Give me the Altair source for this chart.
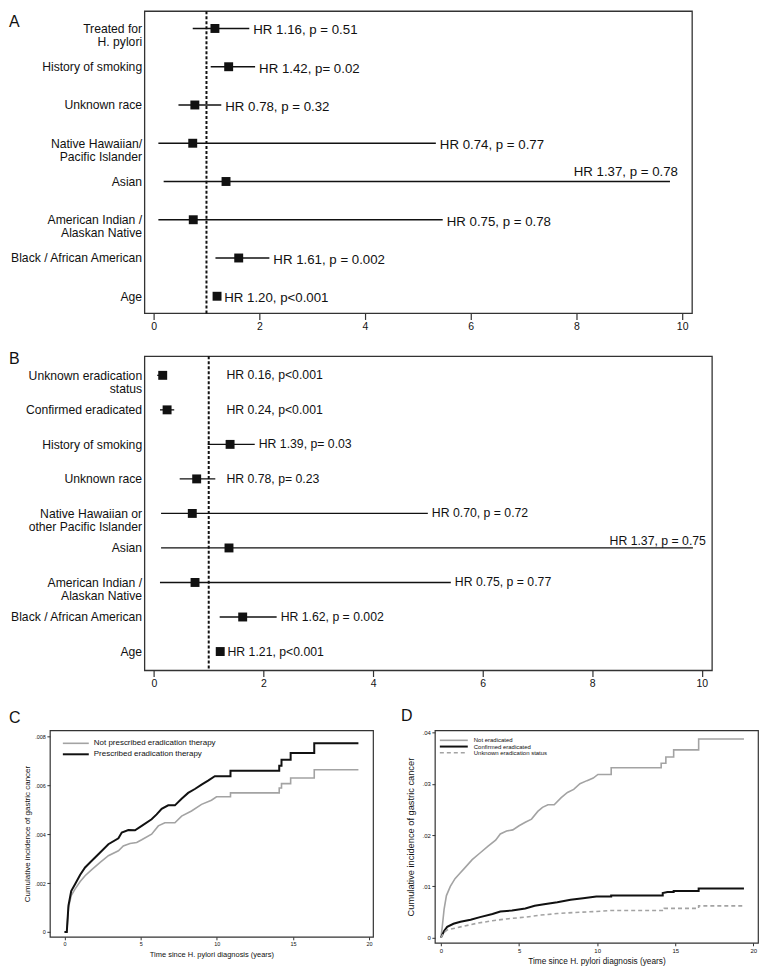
import altair as alt
import pandas as pd

FONT = "Liberation Sans"
INK = "#111111"
FRAME = "#333333"

# ---------------- Panel A: forest plot ----------------
a_labels = ["Treated for\nH. pylori", "History of smoking", "Unknown race",
            "Native Hawaiian/\nPacific Islander", "Asian",
            "American Indian /\nAlaskan Native", "Black / African American", "Age"]
a_hr = [1.16, 1.42, 0.78, 0.74, 1.37, 0.75, 1.61, 1.20]
a_lo = [0.74, 1.08, 0.47, 0.09, 0.19, 0.09, 1.17, 1.15]
a_hi = [1.81, 1.92, 1.28, 5.34, 9.77, 5.47, 2.19, 1.26]
a_txt = ["HR 1.16, p = 0.51", "HR 1.42, p= 0.02", "HR 0.78, p = 0.32",
         "HR 0.74, p = 0.77", "HR 1.37, p = 0.78", "HR 0.75, p = 0.78",
         "HR 1.61, p = 0.002", "HR 1.20, p<0.001"]

# ---------------- Panel B: forest plot ----------------
b_labels = ["Unknown eradication\nstatus", "Confirmed eradicated", "History of smoking",
            "Unknown race", "Native Hawaiian or\nother Pacific Islander", "Asian",
            "American Indian /\nAlaskan Native", "Black / African American", "Age"]
b_hr = [0.16, 0.24, 1.39, 0.78, 0.70, 1.37, 0.75, 1.62, 1.21]
b_lo = [0.06, 0.11, 0.98, 0.47, 0.13, 0.13, 0.11, 1.20, 1.17]
b_hi = [0.20, 0.37, 1.84, 1.12, 5.00, 9.84, 5.42, 2.24, 1.27]
b_txt = ["HR 0.16, p<0.001", "HR 0.24, p<0.001", "HR 1.39, p= 0.03",
         "HR 0.78, p= 0.23", "HR 0.70, p = 0.72", "HR 1.37, p = 0.75",
         "HR 0.75, p = 0.77", "HR 1.62, p = 0.002", "HR 1.21, p<0.001"]

forest_ticks = [0, 2, 4, 6, 8, 10]

# ---------------- Panel C: cumulative incidence (per 1000) ----------------
c_names = ["Not prescribed eradication therapy", "Prescribed eradication therapy"]
c_not_t = [0, 0.15, 0.26, 0.44, 0.70, 1.03, 1.35, 1.79, 2.34, 2.88, 3.54, 3.86, 4.30, 4.74, 5.07,
           5.72, 6.16, 6.59, 7.25, 7.69, 8.34, 9.00, 9.65, 9.98, 10.9, 10.9, 14.1, 14.1, 14.25,
           14.25, 14.85, 14.85, 16.4, 16.4, 19.3]
c_not_permille = [0, 0, 1.00, 1.49, 1.76, 2.06, 2.30, 2.55, 2.85, 3.12, 3.32, 3.52, 3.62, 3.66, 3.77,
                  4.00, 4.34, 4.47, 4.47, 4.74, 4.95, 5.22, 5.39, 5.53, 5.53, 5.69, 5.69, 5.89, 5.89,
                  6.07, 6.07, 6.30, 6.30, 6.64, 6.64]
c_pres_t = [0, 0.15, 0.26, 0.44, 0.70, 1.03, 1.35, 1.79, 2.34, 2.88, 3.54, 3.76, 4.19, 4.63, 5.07,
            5.72, 6.05, 6.38, 6.81, 7.25, 7.69, 8.12, 8.56, 9.00, 9.43, 9.87, 10.9, 10.9, 14.1, 14.1,
            14.25, 14.25, 14.85, 14.85, 16.4, 16.4, 19.3]
c_pres_permille = [0, 0, 1.08, 1.67, 1.96, 2.34, 2.64, 2.91, 3.25, 3.59, 3.83, 4.07, 4.17, 4.16, 4.34,
                   4.61, 4.81, 5.04, 5.18, 5.18, 5.45, 5.69, 5.85, 6.03, 6.19, 6.37, 6.37, 6.60, 6.60,
                   6.80, 6.80, 7.05, 7.05, 7.32, 7.32, 7.72, 7.72]
c_yticks = [0, 0.002, 0.004, 0.006, 0.008]

# ---------------- Panel D: cumulative incidence (percent) ----------------
d_names = ["Not eradicated", "Confirmed eradicated", "Unknown eradication status"]
d_not_t = [0, 0.08, 0.20, 0.35, 0.60, 0.90, 1.20, 1.50, 2.00, 2.50, 3.00, 3.50, 3.80, 4.20, 4.60,
           5.00, 5.40, 5.80, 6.20, 6.50, 6.85, 7.25, 7.70, 8.10, 8.50, 8.90, 9.35, 9.75, 10.05,
           10.9, 10.9, 14.1, 14.1, 14.4, 14.4, 14.9, 14.9, 16.5, 16.5, 19.4]
d_not_pct = [0, 0.20, 0.55, 0.82, 1.00, 1.15, 1.25, 1.35, 1.52, 1.65, 1.78, 1.90, 2.02, 2.08, 2.10,
             2.18, 2.25, 2.31, 2.46, 2.54, 2.59, 2.59, 2.73, 2.83, 2.89, 3.00, 3.06, 3.11, 3.18,
             3.18, 3.31, 3.31, 3.40, 3.40, 3.52, 3.52, 3.66, 3.66, 3.87, 3.87]
d_conf_t = [0, 0.20, 0.40, 0.80, 1.25, 1.90, 2.50, 3.30, 3.80, 4.55, 5.40, 6.00, 6.60, 7.45, 8.30,
            9.10, 9.95, 10.9, 10.9, 14.2, 14.2, 14.5, 14.9, 14.9, 16.5, 16.5, 19.4]
d_conf_pct = [0, 0.13, 0.21, 0.27, 0.31, 0.35, 0.40, 0.46, 0.51, 0.53, 0.57, 0.62, 0.65, 0.69, 0.74,
              0.77, 0.80, 0.80, 0.82, 0.82, 0.87, 0.89, 0.89, 0.91, 0.91, 0.96, 0.96]
d_unk_t = [0, 0.20, 0.40, 1.25, 2.30, 3.30, 4.35, 5.40, 6.40, 7.45, 8.50, 9.95, 10.9, 14.3, 14.3,
           16.5, 16.5, 19.4]
d_unk_pct = [0, 0.10, 0.15, 0.21, 0.28, 0.33, 0.37, 0.40, 0.44, 0.47, 0.49, 0.51, 0.53, 0.53, 0.57,
             0.57, 0.62, 0.62]
d_yticks = [0, 0.01, 0.02, 0.03, 0.04]

time_ticks = [0, 5, 10, 15, 20]

# left gutter (px) between the panel's origin and the forest frame, so that the
# forest frames sit to the right of the left edge shared with panel C
GUTTER = 95


def forest(labels, hr, lo, hi, texts, letter, width, height, pad, text_size, text_dy,
           text_min, top_dx, top_dy, letter_y):
    df = pd.DataFrame({"label": labels, "hr": hr, "lo": lo, "hi": hi, "txt": texts})
    y = alt.Y("label:N", sort=labels, title=None,
              scale=alt.Scale(type="point", padding=pad),
              axis=alt.Axis(labelExpr="split(datum.label, '\\n')", ticks=False, domain=False,
                            grid=False, labelFontSize=12.2, labelPadding=3, labelLineHeight=13,
                            labelLimit=400, labelColor=INK, offset=-GUTTER))
    xsc = alt.Scale(domain=[-0.17, 10.19], nice=False, zero=False, range=[GUTTER, width])
    xax = alt.Axis(values=forest_ticks, format="d", tickSize=6, tickWidth=1.2, tickColor=FRAME,
                   labelFontSize=10.5, labelPadding=2, labelFlush=False, domain=False, grid=False)

    def X(f):
        return alt.X(f, scale=xsc, axis=xax, title=None)

    base = alt.Chart(df)
    frame = alt.Chart(pd.DataFrame({"f": [0]})).mark_rect(
        fillOpacity=0, stroke=FRAME, strokeWidth=1.3).encode(
        x=alt.value(GUTTER), x2=alt.value(width), y=alt.value(0), y2=alt.value(height))
    ref = alt.Chart(pd.DataFrame({"ref": [1.0]})).mark_rule(
        color=INK, strokeWidth=2, strokeDash=[3, 2]).encode(x=X("ref:Q"))
    ci = base.mark_rule(color=INK, strokeWidth=1.3).encode(x=X("lo:Q"), x2="hi:Q", y=y)
    sq = base.mark_square(size=80, color=INK, opacity=1).encode(x=X("hr:Q"), y=y)
    txt = base.transform_filter("datum.hi < 9").transform_calculate(
        tx=f"max(datum.hi, {text_min})").mark_text(
        align="left", baseline="middle", dx=4, dy=text_dy, fontSize=text_size, color=INK
    ).encode(x=X("tx:Q"), y=y, text="txt:N")
    txt_top = base.transform_filter("datum.hi >= 9").mark_text(
        align="right", baseline="middle", dx=top_dx, dy=top_dy, fontSize=text_size, color=INK
    ).encode(x=X("hi:Q"), y=y, text="txt:N")
    let = alt.Chart(pd.DataFrame({"t": [letter]})).mark_text(
        align="left", baseline="alphabetic", fontSize=16, color=INK
    ).encode(text="t:N", x=alt.value(-41), y=alt.value(letter_y))
    return alt.layer(frame, ref, ci, sq, txt, txt_top, let).properties(
        width=width, height=height, view=alt.ViewBackground(stroke="transparent"))


def km(series, names, colors, widths, dashed, xdom, ydom, yticks, yfmt, width, height,
       letter, letter_x, letter_y, tick_fs, xtitle_fs, ytitle_fs, ytitle_pad,
       leg_x0, leg_x1, leg_tx, leg_rows, leg_fs):
    rows = []
    for name, ts, vs, mult in series:
        for i, (t, v) in enumerate(zip(ts, vs)):
            rows.append({"grp": name, "t": t, "v": v * mult, "i": i})
    df = pd.DataFrame(rows)
    color = alt.Color("grp:N", scale=alt.Scale(domain=names, range=colors), legend=None)
    sw = alt.StrokeWidth("grp:N", scale=alt.Scale(type="ordinal", domain=names, range=widths), legend=None)
    xenc = alt.X("t:Q", title="Time since H. pylori diagnosis (years)",
                 scale=alt.Scale(domain=xdom, nice=False, zero=False),
                 axis=alt.Axis(values=time_ticks, format="d", tickSize=3, tickColor=FRAME,
                               labelFontSize=tick_fs, labelPadding=2, labelFlush=False,
                               domain=False, grid=False, titleFontSize=xtitle_fs, titlePadding=3))
    ysc = alt.Scale(domain=ydom, nice=False, zero=False)
    yenc = alt.Y("v:Q", title="Cumulative incidence of gastric cancer", scale=ysc,
                 axis=alt.Axis(values=yticks,
                               labelExpr=f"datum.value == 0 ? '0' : replace(format(datum.value, '{yfmt}'), '0.', '.')",
                               tickSize=3, tickColor=FRAME, labelFontSize=tick_fs, labelPadding=1.5,
                               labelFlush=False, domain=False, grid=False,
                               titleFontSize=ytitle_fs, titlePadding=ytitle_pad))
    yenc_plain = alt.Y("v:Q", scale=ysc, axis=None)
    solid_names = [n for n in names if n not in dashed]
    solid_test = alt.FieldOneOfPredicate(field="grp", oneOf=solid_names)
    layers = [alt.Chart(df).transform_filter(solid_test).mark_line().encode(
        x=xenc, y=yenc, color=color, strokeWidth=sw, detail="grp:N", order=alt.Order("i:Q"))]
    # key inside the plot
    key = pd.DataFrame({"grp": names})
    ky = alt.Y("grp:N", sort=names,
               scale=alt.Scale(type="point", domain=names, range=leg_rows, padding=0), axis=None)
    layers.append(alt.Chart(key).transform_filter(solid_test).mark_rule().encode(
        x=alt.value(leg_x0), x2=alt.value(leg_x1), y=ky, color=color, strokeWidth=sw))
    if dashed:
        dash_test = alt.FieldOneOfPredicate(field="grp", oneOf=dashed)
        layers.append(alt.Chart(df).transform_filter(dash_test).mark_line(strokeDash=[4, 3]).encode(
            x=xenc, y=yenc_plain, color=color, strokeWidth=sw, detail="grp:N", order=alt.Order("i:Q")))
        layers.append(alt.Chart(key).transform_filter(dash_test).mark_rule(strokeDash=[4, 3]).encode(
            x=alt.value(leg_x0), x2=alt.value(leg_x1), y=ky, color=color, strokeWidth=sw))
    layers.append(alt.Chart(key).mark_text(align="left", baseline="middle", fontSize=leg_fs, color=INK).encode(
        x=alt.value(leg_tx), y=ky, text="grp:N"))
    layers.append(alt.Chart(pd.DataFrame({"t": [letter]})).mark_text(
        align="left", baseline="alphabetic", fontSize=16, color=INK
    ).encode(text="t:N", x=alt.value(letter_x), y=alt.value(letter_y)))
    return alt.layer(*layers).resolve_scale(y="independent").properties(width=width, height=height)


A = forest(a_labels, a_hr, a_lo, a_hi, a_txt, "A", 644, 303, 0.45, 13.3, 2, 0, 8, -10, 16)
B = forest(b_labels, b_hr, b_lo, b_hi, b_txt, "B", 664, 315, 0.55, 12.3, 0, 1.25, 13, -7, 8)

C = km([(c_names[0], c_not_t, c_not_permille, 0.001), (c_names[1], c_pres_t, c_pres_permille, 0.001)],
       c_names, ["#a3a3a3", INK], [1.6, 2.0], [],
       [-0.96, 20.26], [-0.0002, 0.00825], c_yticks, ".3f", 324, 207,
       "C", -41, -7, 5.5, 7.5, 8, 3,
       13, 39, 44, [13, 24], 8)

D = km([(d_names[0], d_not_t, d_not_pct, 0.01), (d_names[1], d_conf_t, d_conf_pct, 0.01),
        (d_names[2], d_unk_t, d_unk_pct, 0.01)],
       d_names, ["#9a9a9a", INK, "#6a6a6a"], [1.5, 2.2, 1.2], [d_names[2]],
       [-0.39, 20.3], [-0.001, 0.0404], d_yticks, ".2f", 324, 213,
       "D", -34, -9, 6, 8.3, 9.3, 7,
       5, 33, 39, [10, 22.5, 35], 6)

chart = alt.vconcat(A, B, alt.hconcat(C, D, spacing=26), spacing=17).properties(
    padding=0
).configure_view(
    stroke=FRAME, strokeWidth=1.2
).configure_axis(
    labelFont=FONT, titleFont=FONT, labelColor=INK, titleColor=INK, titleFontWeight="normal"
).configure_text(font=FONT)

chart.save("out.html", embed_options={"renderer": "svg", "actions": False})
